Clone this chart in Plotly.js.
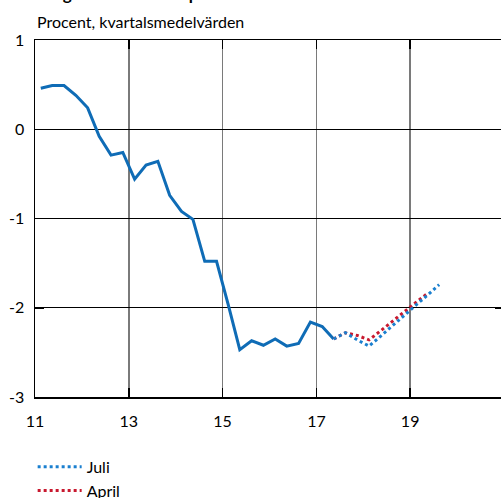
<!DOCTYPE html>
<html>
<head>
<meta charset="utf-8">
<script src="https://cdn.plot.ly/plotly-3.0.1.min.js"></script>
<style>
  html, body { margin: 0; padding: 0; overflow: hidden; background: #fff; }
  #chart { width: 504px; height: 520px; }
</style>
</head>
<body>
<div id="chart"></div>
<script>
// Quarter labels and values
const outcomeQuarters = ['2011Q1','2011Q2','2011Q3','2011Q4','2012Q1','2012Q2','2012Q3','2012Q4',
  '2013Q1','2013Q2','2013Q3','2013Q4','2014Q1','2014Q2','2014Q3','2014Q4',
  '2015Q1','2015Q2','2015Q3','2015Q4','2016Q1','2016Q2','2016Q3','2016Q4','2017Q1','2017Q2'];
const outcomeValues = [0.46, 0.49, 0.49, 0.38, 0.24, -0.08, -0.29, -0.26,
  -0.56, -0.40, -0.36, -0.74, -0.92, -1.01, -1.48, -1.48,
  -1.97, -2.47, -2.37, -2.42, -2.35, -2.43, -2.40, -2.16, -2.21, -2.35];

const juliQuarters = ['2017Q2','2017Q3','2017Q4','2018Q1','2018Q2','2018Q3','2018Q4','2019Q1','2019Q2','2019Q3'];
const juliValues = [-2.35, -2.28, -2.36, -2.43, -2.32, -2.20, -2.09, -1.97, -1.86, -1.74];

const aprilQuarters = ['2017Q2','2017Q3','2017Q4','2018Q1','2018Q2','2018Q3','2018Q4','2019Q1','2019Q2'];
const aprilValues = [-2.35, -2.28, -2.31, -2.36, -2.26, -2.15, -2.05, -1.94, -1.84];

const xTickVals = ['2011-01-01','2013-01-01','2015-01-01','2017-01-01','2019-01-01'];
const xTickText = ['11','13','15','17','19'];
const yTickVals = [-3, -2, -1, 0, 1];
const yTickText = ['-3', '-2', '-1', '0', '1'];

const titleText = 'Diagram 1:9. Real reporänta';
const subtitleText = 'Procent, kvartalsmedelvärden';
const legendNames = ['Juli', 'April'];

// mid-quarter date for a label like '2011Q1'
function qDate(label) {
  const y = label.slice(0, 4);
  const q = +label.slice(5);
  const mid = ['02-15', '05-15', '08-15', '11-15'][q - 1];
  return y + '-' + mid;
}

const font = 'Lato, "Open Sans", "DejaVu Sans", sans-serif';

const traces = [
  {
    x: outcomeQuarters.map(qDate), y: outcomeValues,
    type: 'scatter', mode: 'lines', showlegend: false,
    line: { color: '#0f6cb6', width: 3 }
  },
  {
    x: aprilQuarters.map(qDate), y: aprilValues, name: legendNames[1],
    type: 'scatter', mode: 'lines',
    line: { color: '#c8192f', width: 3, dash: 'dot' }
  },
  {
    x: juliQuarters.map(qDate), y: juliValues, name: legendNames[0],
    type: 'scatter', mode: 'lines',
    line: { color: '#1a7fcf', width: 3, dash: 'dot' }
  }
];

const layout = {
  width: 504, height: 520,
  margin: { l: 35, r: 0, t: 40, b: 123 },
  paper_bgcolor: '#fff', plot_bgcolor: '#fff',
  font: { family: font, size: 15, color: '#000' },
  xaxis: {
    type: 'date', range: ['2011-01-01', '2021-01-01'],
    tickvals: xTickVals, ticktext: xTickText,
    showgrid: true, gridcolor: '#7a7a7a', gridwidth: 1.5,
    showline: true, linecolor: '#000', linewidth: 1.5, mirror: 'ticks',
    ticks: 'inside', ticklen: 9, tickcolor: '#000', tickwidth: 1.5,
    zeroline: false, ticklabelstandoff: 9,
    tickfont: { family: font, size: 16, color: '#000' }
  },
  yaxis: {
    range: [-3, 1], tickvals: yTickVals, ticktext: yTickText,
    showgrid: true, gridcolor: '#000', gridwidth: 1,
    showline: true, linecolor: '#000', linewidth: 1.5, mirror: 'ticks',
    ticks: 'inside', ticklen: 9, tickcolor: '#000', tickwidth: 1.5,
    zeroline: false, ticklabelstandoff: 6,
    tickfont: { family: font, size: 16, color: '#000' }
  },
  showlegend: true,
  legend: {
    x: -0.005, xanchor: 'left', y: -0.148, yanchor: 'top',
    traceorder: 'reversed', tracegroupgap: 4,
    font: { family: font, size: 16, color: '#000' },
    bgcolor: 'rgba(0,0,0,0)', itemwidth: 44
  },
  annotations: [
    {
      text: '<b>' + titleText + '</b>', xref: 'paper', yref: 'paper',
      x: 0, y: 1, xanchor: 'left', yanchor: 'bottom', yshift: 34,
      showarrow: false, font: { family: font, size: 17, color: '#000' }
    },
    {
      text: subtitleText, xref: 'paper', yref: 'paper',
      x: 0, y: 1, xanchor: 'left', yanchor: 'bottom', yshift: 7,
      showarrow: false, font: { family: font, size: 16, color: '#000' }
    }
  ]
};

Plotly.newPlot('chart', traces, layout, { displayModeBar: false, staticPlot: true });
</script>
</body>
</html>
